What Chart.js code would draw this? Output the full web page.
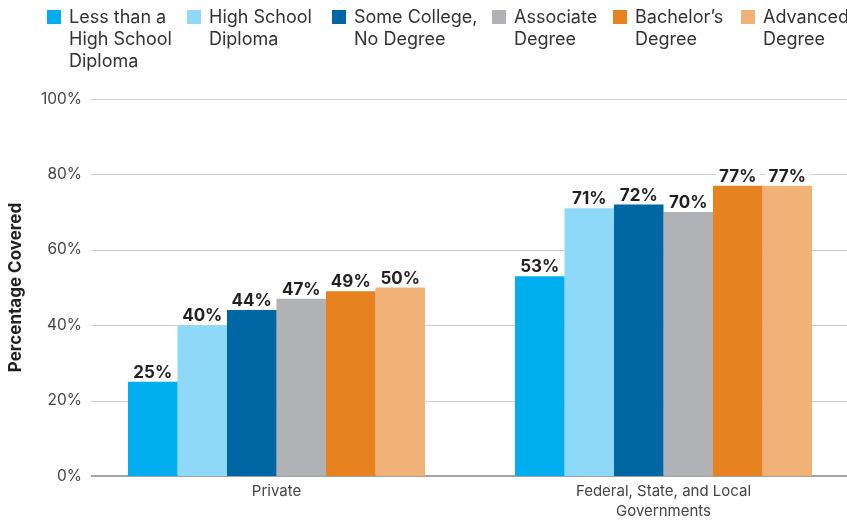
<!DOCTYPE html>
<html><head><meta charset="utf-8">
<script src="https://cdn.jsdelivr.net/npm/chart.js@4"></script>
<style>
html,body{margin:0;padding:0;background:#fff;overflow:hidden;width:847px;height:521px}
#wrap{width:857px;height:521px}
canvas{display:block}
</style>
</head><body><div id="wrap"><canvas id="c" width="857" height="521"></canvas></div>
<script>
// ---- data ----
const categories = ['Private', ['Federal, State, and Local', 'Governments']];
const seriesNames = [
  ['Less than a', 'High School', 'Diploma'],
  ['High School', 'Diploma'],
  ['Some College,', 'No Degree'],
  ['Associate', 'Degree'],
  ['Bachelor\u2019s', 'Degree'],
  ['Advanced', 'Degree']
];
const lessThanHighSchool = [25, 53];
const highSchoolDiploma = [40, 71];
const someCollege = [44, 72];
const associateDegree = [47, 70];
const bachelorsDegree = [49, 77];
const advancedDegree = [50, 77];
const yTicks = [0, 20, 40, 60, 80, 100];
const axisTitle = 'Percentage Covered';

// ---- styles ----
const seriesColors = ['#00AEEF', '#8ED8F8', '#0066A4', '#B1B2B6', '#E6821F', '#F1B278'];
const FONT = 'Inter, "Liberation Sans", Arial, sans-serif';
const seriesValues = [lessThanHighSchool, highSchoolDiploma, someCollege, associateDegree, bachelorsDegree, advancedDegree];

const gridPlugin = {
  id: 'gridLines',
  beforeDatasetsDraw(chart) {
    const ctx = chart.ctx, y = chart.scales.y;
    ctx.save();
    yTicks.forEach(v => {
      const py = Math.round(y.getPixelForValue(v));
      ctx.beginPath();
      if (v === 0) { ctx.strokeStyle = '#a3a3a3'; ctx.lineWidth = 2; ctx.moveTo(91, py); ctx.lineTo(847, py); }
      else { ctx.strokeStyle = '#cfcfcf'; ctx.lineWidth = 1; ctx.moveTo(91, py + 0.5); ctx.lineTo(847, py + 0.5); }
      ctx.stroke();
    });
    ctx.restore();
  }
};

const labelPlugin = {
  id: 'valueLabels',
  afterDatasetsDraw(chart) {
    const ctx = chart.ctx;
    ctx.save();
    ctx.font = 'bold 17px ' + FONT;
    ctx.textAlign = 'center';
    ctx.textBaseline = 'alphabetic';
    chart.data.datasets.forEach((ds, di) => {
      const meta = chart.getDatasetMeta(di);
      meta.data.forEach((bar, i) => {
        const txt = ds.data[i] + '%';
        const w = ctx.measureText(txt).width;
        const by = bar.y - 4;
        ctx.fillStyle = '#ffffff';
        ctx.fillRect(bar.x - w / 2 - 3, by - 15, w + 6, 17);
        ctx.fillStyle = '#231f20';
        ctx.fillText(txt, bar.x, by);
      });
    });
    ctx.restore();
  }
};

const legendPlugin = {
  id: 'multiLegend',
  afterDraw(chart) {
    const ctx = chart.ctx;
    const xs = [47, 187, 332, 492, 613, 741];
    ctx.save();
    ctx.font = '18px ' + FONT;
    ctx.textAlign = 'left';
    ctx.textBaseline = 'alphabetic';
    chart.data.datasets.forEach((ds, i) => {
      ctx.fillStyle = ds.backgroundColor;
      ctx.fillRect(xs[i], 10, 14, 14);
      ctx.fillStyle = '#333333';
      seriesNames[i].forEach((line, li) => ctx.fillText(line, xs[i] + 22, 23 + li * 22));
    });
    ctx.restore();
  }
};

new Chart(document.getElementById('c'), {
  type: 'bar',
  data: {
    labels: categories,
    datasets: seriesNames.map((n, i) => ({
      label: n.join(' '),
      data: seriesValues[i],
      backgroundColor: seriesColors[i],
      borderWidth: 0,
      categoryPercentage: 0.7674,
      barPercentage: 1
    }))
  },
  options: {
    responsive: false,
    animation: false,
    devicePixelRatio: 1,
    layout: { padding: { top: 99, left: 0, right: 0, bottom: 0 } },
    plugins: { legend: { display: false }, tooltip: { enabled: false } },
    scales: {
      x: {
        grid: { display: false, drawTicks: false },
        border: { display: false },
        ticks: { color: '#444', font: { family: FONT, size: 15, lineHeight: 1.33 }, padding: 6, maxRotation: 0, autoSkip: false },
        afterFit(a) { a.height = 45; }
      },
      y: {
        min: 0, max: 100,
        grid: { display: false, drawTicks: false },
        border: { display: false },
        afterBuildTicks(a) { a.ticks = yTicks.map(v => ({ value: v })); },
        ticks: { color: '#444', font: { family: FONT, size: 15.5 }, padding: 1, callback: v => v + '%' },
        title: { display: true, text: axisTitle, color: '#231f20', font: { family: FONT, size: 17, weight: 'bold' }, padding: { top: 6, bottom: 0 } },
        afterFit(a) { a.width = 83; }
      }
    }
  },
  plugins: [gridPlugin, labelPlugin, legendPlugin]
});
</script>
</body></html>
